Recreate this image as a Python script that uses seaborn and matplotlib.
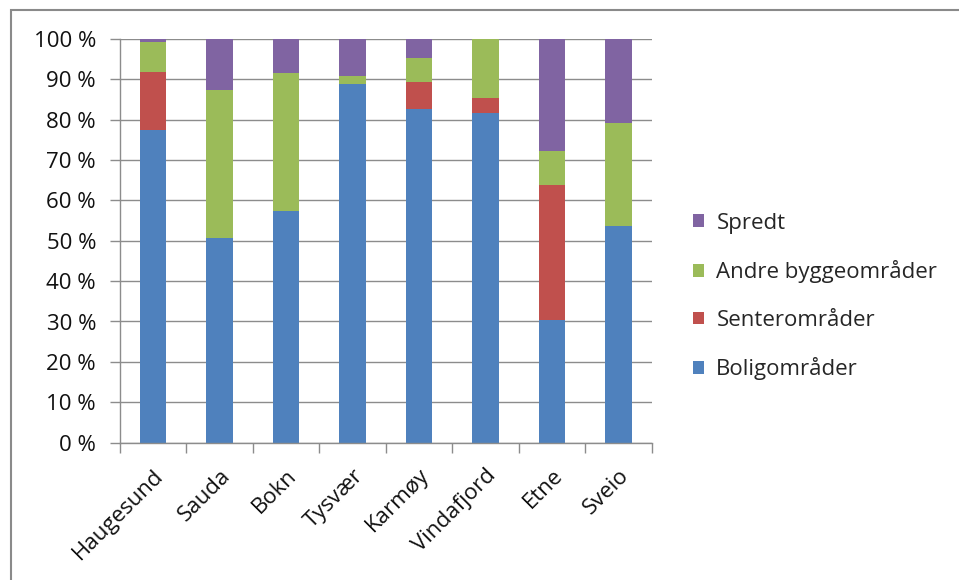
import numpy as np
import pandas as pd
import seaborn as sns
import matplotlib
matplotlib.use("Agg")
import matplotlib.pyplot as plt
from matplotlib.patches import Patch, Rectangle
from matplotlib.ticker import FuncFormatter

# Share of area per zone type in each municipality (%)
kommuner = ["Haugesund", "Sauda", "Bokn", "Tysvær", "Karmøy", "Vindafjord", "Etne", "Sveio"]
boligomrader = [77.5, 50.6, 57.3, 88.7, 82.6, 81.6, 30.4, 53.6]
senteromrader = [14.3, 0.0, 0.0, 0.0, 6.6, 3.7, 33.4, 0.0]
andre_byggeomrader = [7.3, 36.8, 34.2, 2.1, 6.1, 14.7, 8.5, 25.6]
spredt = [0.9, 12.6, 8.5, 9.2, 4.7, 0.0, 27.7, 20.8]

series_names = ["Boligområder", "Senterområder", "Andre byggeområder", "Spredt"]
series_values = [boligomrader, senteromrader, andre_byggeomrader, spredt]
series_colors = ["#4F81BD", "#C0504D", "#9BBB59", "#8064A2"]

sns.set_style("white")
plt.rcParams["font.family"] = ["Open Sans", "DejaVu Sans"]

FS = 16
W, H, DPI = 959, 580, 100
fig = plt.figure(figsize=(W / DPI, H / DPI), dpi=DPI)
ax = fig.add_axes([119.7 / W, 1 - 442.7 / H, (651.7 - 119.7) / W, (442.7 - 38.7) / H])

grid_color = "#8C8C8C"
ax.set_axisbelow(True)
ax.yaxis.grid(True, color=grid_color, linewidth=1.0)

bottom = np.zeros(len(kommuner))
for name, vals, col in zip(series_names, series_values, series_colors):
    df = pd.DataFrame({"kommune": kommuner, "andel": vals})
    sns.barplot(data=df, x="kommune", y="andel", order=kommuner, color=col,
                saturation=1, width=0.4, bottom=bottom, linewidth=0, ax=ax,
                errorbar=None)
    bottom = bottom + np.array(vals)

ax.set_xlim(-0.5, len(kommuner) - 0.5)
ax.set_ylim(0, 100)
ax.set_yticks(np.arange(0, 101, 10))
ax.yaxis.set_major_formatter(FuncFormatter(lambda v, p: f"{int(round(v))} %"))
ax.set_xlabel("")
ax.set_ylabel("")

for s in ["top", "right"]:
    ax.spines[s].set_visible(False)
for s in ["left", "bottom"]:
    ax.spines[s].set_color(grid_color)
    ax.spines[s].set_linewidth(1.0)

ax.tick_params(axis="y", which="major", left=True, length=7, width=1.0,
               color=grid_color, labelsize=FS, labelcolor="#111111", pad=10)
ax.set_xticks(np.arange(-0.5, len(kommuner), 1), minor=True)
ax.tick_params(axis="x", which="minor", bottom=True, length=7, width=1.0, color=grid_color)
ax.tick_params(axis="x", which="major", bottom=False, length=0, labelsize=FS,
               labelcolor="#111111", pad=16)
for lbl in ax.get_xticklabels():
    lbl.set_rotation(45)
    lbl.set_ha("right")
    lbl.set_rotation_mode("anchor")

handles = [Patch(facecolor=c, edgecolor="none", label=n)
           for n, c in zip(series_names, series_colors)][::-1]
fig.legend(handles=handles, loc="center left", bbox_to_anchor=(693 / W, 1 - 296.5 / H),
           frameon=False, fontsize=FS, handlelength=0.5, handleheight=0.5,
           handletextpad=0.55, labelspacing=1.2, borderpad=0, borderaxespad=0)

# chart area outline
fig.patches.append(Rectangle((11 / W, -0.05), 1.1, 1 - 9.5 / H + 0.05, transform=fig.transFigure,
                             fill=False, edgecolor="#8A8A8A", linewidth=1.5))

fig.savefig("out.png", dpi=DPI)
